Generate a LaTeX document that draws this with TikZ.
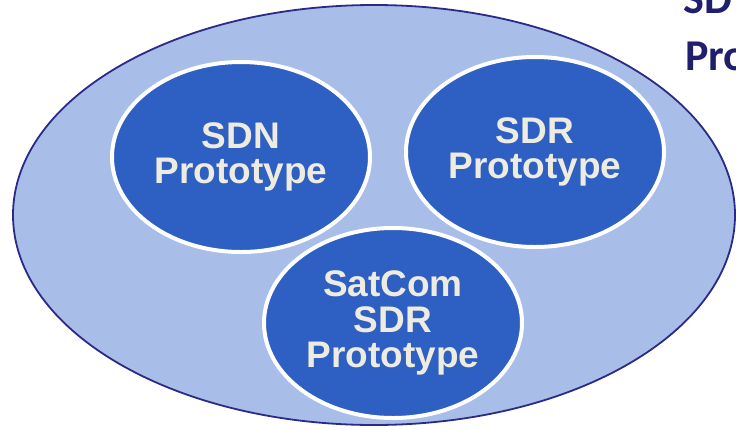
\documentclass[tikz,border=0pt]{standalone}
\usepackage{fontspec}
\setmainfont{Liberation Sans}
\newfontfamily\calib{Carlito}
\usetikzlibrary{shapes.geometric}
\definecolor{outerfill}{HTML}{A8BEE9}
\definecolor{outerline}{HTML}{2B2A86}
\definecolor{innerfill}{HTML}{2E5FC2}
\definecolor{lbltext}{HTML}{EEEBE0}
\definecolor{navy}{HTML}{1F1F6B}
\tikzset{
  outer/.style={ellipse, draw=outerline, line width=1.8pt, fill=outerfill, inner sep=0pt},
  proto/.style={ellipse, draw=white, line width=4pt, fill=innerfill, inner sep=0pt,
    minimum width=258pt, minimum height=190pt, text=lbltext, align=center,
    font=\bfseries\fontsize{37}{35.5}\selectfont},
  side/.style={anchor=base west, inner sep=0pt, text=navy, font=\calib\bfseries\fontsize{44}{50}\selectfont}
}
\begin{document}
\begin{tikzpicture}[x=1pt,y=-1pt]
\useasboundingbox (0,0) rectangle (736,429);
\clip (0,0) rectangle (736,429);
\fill[white] (0,0) rectangle (736,429);
\node[outer, minimum width=722pt, minimum height=420pt] (big) at (374,215) {};
\node[side] (t1) at (683,13) {SD};
\node[side] (t2) at (685,70) {Pro};
\node[proto] (sdn) at (241,157) {SDN\\Prototype};
\node[proto] (sdr) at (535,152) {SDR\\Prototype};
\node[proto] (sat) at (393,323) {SatCom\\SDR\\Prototype};
\end{tikzpicture}
\end{document}
